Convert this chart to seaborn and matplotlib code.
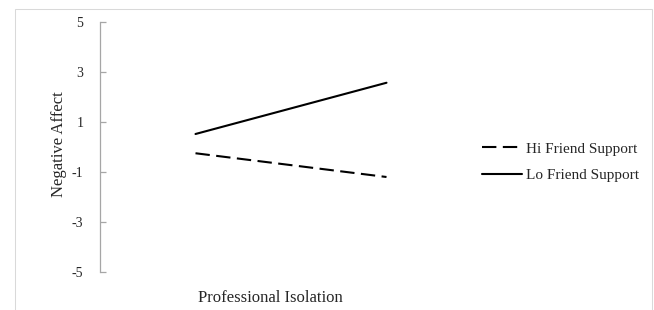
import matplotlib
matplotlib.use("Agg")
import matplotlib.pyplot as plt
import seaborn as sns
import pandas as pd
from matplotlib.patches import Rectangle

# Data
x_levels = [0, 1]  # low / high professional isolation
hi_support = [-0.25, -1.2]
lo_support = [0.52, 2.57]
series_names = ["Hi Friend Support", "Lo Friend Support"]
y_ticks = [-5, -3, -1, 1, 3, 5]

df = pd.DataFrame({
    "x": x_levels * 2,
    "y": hi_support + lo_support,
    "group": [series_names[0]] * 2 + [series_names[1]] * 2,
})

sns.set_theme(style="white")
plt.rcParams['font.family'] = ['Liberation Serif', 'DejaVu Serif']
FS_TICK = 10
FS_LABEL = 12
FS_LEG = 11

fig = plt.figure(figsize=(6.54, 3.10), dpi=100)
ax = fig.add_axes([100/654, 38/310, 382/654, 250/310])

sns.lineplot(data=df, x="x", y="y", style="group", ax=ax,
             color="black", linewidth=1.5,
             dashes={series_names[0]: (6.9, 3.1), series_names[1]: ""},
             style_order=series_names, legend=True)

ax.set_xlim(-0.5, 1.5)
ax.set_ylim(-5, 5)
ax.set_yticks(y_ticks)
ax.set_yticklabels([str(t) for t in y_ticks], fontsize=FS_TICK)
ax.set_xticks([])
ax.tick_params(axis='y', direction='in', length=4, width=0.9, color='#a6a6a6', pad=12, left=True)
for s in ['top', 'right', 'bottom']:
    ax.spines[s].set_visible(False)
ax.spines['left'].set_color('#a6a6a6')
ax.spines['left'].set_linewidth(0.9)

ax.set_ylabel("Negative Affect", fontsize=FS_LABEL)
ax.yaxis.set_label_coords(-0.086, 0.51)
ax.set_xlabel("Professional Isolation", fontsize=FS_LABEL)
ax.xaxis.set_label_coords(0.445, -0.072)
ax.xaxis.label.set_va('top')

handles, labels = ax.get_legend_handles_labels()
ax.legend(handles, labels, loc='center left', bbox_to_anchor=(482/654, 148/310),
          bbox_transform=fig.transFigure, frameon=False, fontsize=FS_LEG,
          handlelength=2.6, handletextpad=0.27, labelspacing=0.82,
          borderpad=0, borderaxespad=0)

# outer chart border
fig.patches.append(Rectangle((15/654, -0.05), (652-15)/654, (310-9)/310 + 0.05,
                             transform=fig.transFigure, fill=False,
                             edgecolor='#d9d9d9', linewidth=0.75))

fig.savefig("out.png", dpi=100)
